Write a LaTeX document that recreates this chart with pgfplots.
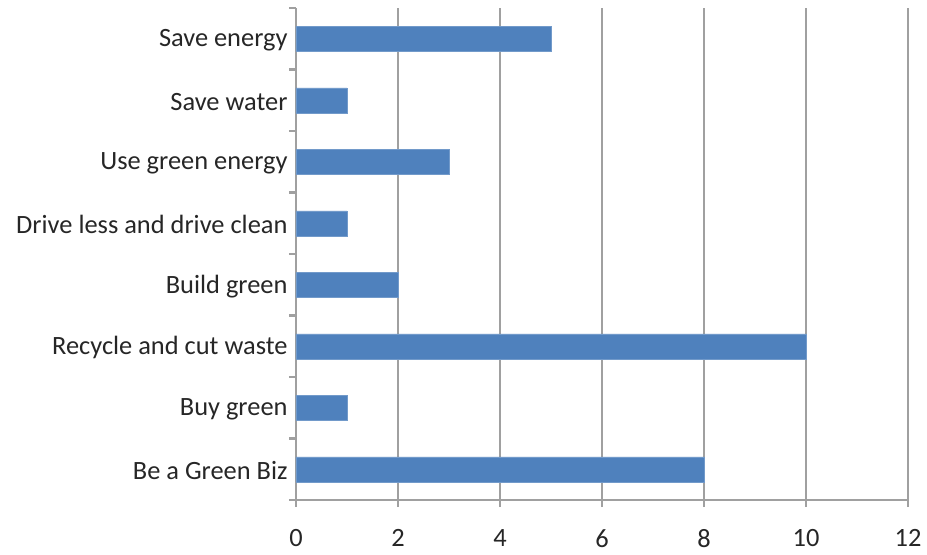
\documentclass[border=0pt]{standalone}
\usepackage{pgfplots}
\pgfplotsset{compat=1.18}
\usepackage{fontspec}
\setmainfont{Carlito}
\definecolor{barblue}{HTML}{4F81BD}
\definecolor{axgray}{HTML}{A0A0A0}
\begin{document}
\begin{tikzpicture}
\path[use as bounding box] (-296bp,-55bp) rectangle (631bp,500bp);
\begin{axis}[at={(0bp,0bp)}, anchor=south west, scale only axis,
  width=612bp, height=492bp,
  xbar, bar width=25bp,
  xmin=0, xmax=12, ymin=-0.5, ymax=7.5,
  xtick={0,2,...,12},
  ytick={0,...,7},
  yticklabels={Be a Green Biz, Buy green, Recycle and cut waste, Build green, Drive less and drive clean, Use green energy, Save water, Save energy},
  axis x line*=bottom, axis y line*=left,
  axis line style={axgray, line width=2.5bp},
  xmajorgrids, grid style={axgray, line width=2.5bp},
  tick align=outside,
  major tick length=7bp,
  x tick style={axgray, line width=2.5bp},
  y tick style={draw=none},
  extra y ticks={-0.5,0.5,...,7.5},
  extra y tick labels={},
  extra y tick style={y tick style={axgray, line width=2.5bp, draw=axgray}},
  /pgf/number format/assume math mode=true,
  tick label style={font=\fontsize{26.5}{30}\selectfont, text=black!85},
  xticklabel style={yshift=-19bp},
  yticklabel style={xshift=2bp, yshift=-1.5bp},
]
\addplot[fill=barblue, draw=barblue!80!white] coordinates {(8,0) (1,1) (10,2) (2,3) (1,4) (3,5) (1,6) (5,7)};
\end{axis}
\end{tikzpicture}
\end{document}
